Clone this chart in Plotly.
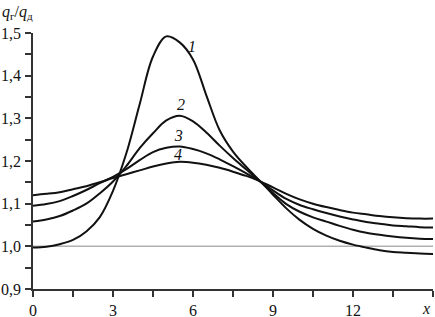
import plotly.graph_objects as go

x_vals = [0, 0.5, 1, 1.5, 2, 2.5, 3, 3.5, 4, 4.5, 5, 5.5, 6, 6.5, 7, 7.5, 8, 8.5, 9, 9.5,
          10, 10.5, 11, 11.5, 12, 12.5, 13, 13.5, 14, 14.5, 15]
curve1 = [0.997, 0.999, 1.005, 1.015, 1.035, 1.068, 1.13, 1.218, 1.333, 1.445, 1.492, 1.478,
          1.438, 1.354, 1.272, 1.222, 1.186, 1.154, 1.121, 1.089, 1.062, 1.041, 1.025, 1.013,
          1.004, 0.997, 0.991, 0.987, 0.985, 0.983, 0.982]
curve2 = [1.058, 1.063, 1.071, 1.084, 1.1, 1.124, 1.152, 1.188, 1.23, 1.265, 1.295, 1.306,
          1.293, 1.267, 1.236, 1.207, 1.18, 1.153, 1.125, 1.099, 1.081, 1.068, 1.058, 1.048,
          1.039, 1.032, 1.027, 1.023, 1.02, 1.018, 1.017]
curve3 = [1.095, 1.099, 1.106, 1.118, 1.132, 1.148, 1.163, 1.181, 1.202, 1.221, 1.231, 1.234,
          1.228, 1.218, 1.204, 1.188, 1.171, 1.153, 1.131, 1.111, 1.097, 1.087, 1.078, 1.07,
          1.063, 1.057, 1.053, 1.049, 1.047, 1.045, 1.044]
curve4 = [1.12, 1.123, 1.127, 1.134, 1.141, 1.15, 1.16, 1.169, 1.178, 1.187, 1.194, 1.198,
          1.196, 1.191, 1.184, 1.175, 1.165, 1.153, 1.138, 1.123, 1.11, 1.1, 1.092, 1.085,
          1.079, 1.075, 1.071, 1.068, 1.066, 1.065, 1.065]
curve_names = ["1", "2", "3", "4"]
label_x = [5.96, 5.55, 5.47, 5.44]
label_y = [1.465, 1.329, 1.256, 1.211]

x_tickvals = [0, 3, 6, 9, 12, 15]
x_ticktext = ["0", "3", "6", "9", "12", ""]
x_minor = [1.5, 4.5, 7.5, 10.5, 13.5]
x_axis_name = "<i>x</i>"
y_tickvals = [0.9, 1.0, 1.1, 1.2, 1.3, 1.4, 1.5]
y_ticktext = ["0,9", "1,0", "1,1", "1,2", "1,3", "1,4", "1,5"]
y_minor = [0.95, 1.05, 1.15, 1.25, 1.35, 1.45]
y_axis_name = "<i>q</i><sub>г</sub>/<i>q</i><sub>д</sub>"
ref_level = 1.0

FONT = "Liberation Serif, Times New Roman, serif"
INK = "#111111"
AX = "#333333"

fig = go.Figure()
fig.add_hline(y=ref_level, line=dict(color="#b0b0b0", width=1.5), layer="below")
for ys in [curve1, curve2, curve3, curve4]:
    fig.add_trace(go.Scatter(x=x_vals, y=ys, mode="lines",
                             line=dict(color=INK, width=2, shape="spline", smoothing=1.0),
                             showlegend=False, hoverinfo="skip"))
fig.add_trace(go.Scatter(x=label_x, y=label_y, mode="text",
                         text=["<i>%s</i>" % n for n in curve_names],
                         textfont=dict(family=FONT, size=16, color=INK),
                         showlegend=False, hoverinfo="skip"))

axis_common = dict(showline=True, linecolor=AX, linewidth=1.5, showgrid=False,
                   zeroline=False, ticks="outside", ticklen=6, tickcolor=AX, tickwidth=1.5,
                   automargin=False, tickfont=dict(family=FONT, size=16, color=INK))

fig.update_layout(
    width=435, height=317,
    margin=dict(l=33, r=2, t=33, b=28),
    paper_bgcolor="white", plot_bgcolor="white",
    font=dict(family=FONT, size=16, color=INK),
    xaxis=dict(range=[0, 15], tickvals=x_tickvals, ticktext=x_ticktext,
               minor=dict(tickvals=x_minor, ticks="outside", ticklen=6,
                          tickcolor=AX, tickwidth=1.5, showgrid=False),
               **axis_common),
    yaxis=dict(range=[0.9, 1.5], tickvals=y_tickvals, ticktext=y_ticktext,
               ticklabelstandoff=1,
               minor=dict(tickvals=y_minor, ticks="outside", ticklen=6,
                          tickcolor=AX, tickwidth=1.5, showgrid=False),
               **axis_common),
    annotations=[
        dict(text=y_axis_name, xref="paper", yref="paper",
             x=-33/400, y=1 + 21/256, xanchor="left", yanchor="middle",
             showarrow=False, font=dict(family=FONT, size=16, color=INK)),
        dict(text=x_axis_name, xref="paper", yref="paper",
             x=1, y=0, xanchor="right", yanchor="top", xshift=-2, yshift=-10,
             borderpad=0,
             showarrow=False, font=dict(family=FONT, size=16, color=INK)),
    ],
)

fig.write_html("out.html", config={"displayModeBar": False},
               post_script="document.body.style.margin='0';document.body.style.overflow='hidden';")
